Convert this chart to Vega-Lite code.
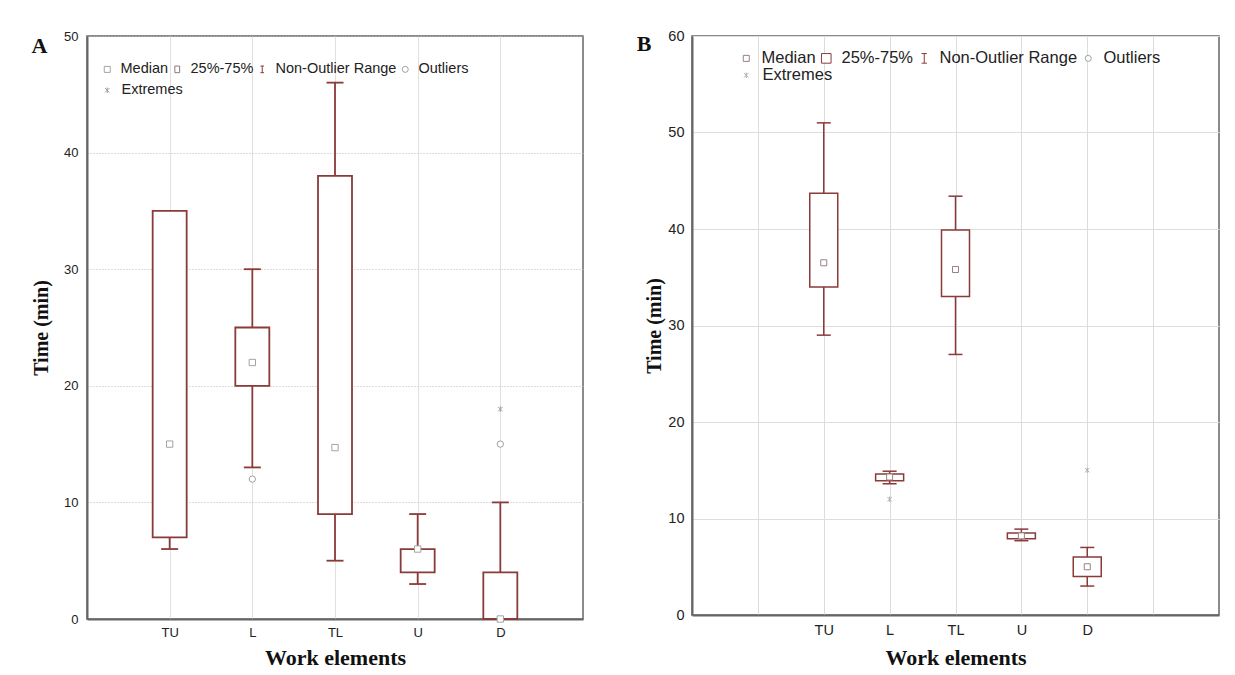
{
  "$schema": "https://vega.github.io/schema/vega-lite/v6.json",
  "background": "white",
  "padding": {"left": 30, "top": 27, "right": 5, "bottom": 5},
  "datasets": {
    "boxA": [
      {"cat": "TU", "q1": 7, "q3": 35, "lo": 6, "hi": 35},
      {"cat": "L", "q1": 20, "q3": 25, "lo": 13, "hi": 30},
      {"cat": "TL", "q1": 9, "q3": 38, "lo": 5, "hi": 46},
      {"cat": "U", "q1": 4, "q3": 6, "lo": 3, "hi": 9},
      {"cat": "D", "q1": 0, "q3": 4, "lo": 0, "hi": 10}
    ],
    "ptsA": [
      {"cat": "TU", "kind": "Median", "v": 15},
      {"cat": "L", "kind": "Median", "v": 22},
      {"cat": "TL", "kind": "Median", "v": 14.7},
      {"cat": "U", "kind": "Median", "v": 6},
      {"cat": "D", "kind": "Median", "v": 0},
      {"cat": "L", "kind": "Outliers", "v": 12},
      {"cat": "D", "kind": "Outliers", "v": 15},
      {"cat": "D", "kind": "Extremes", "v": 18}
    ],
    "boxB": [
      {"cat": "TU", "q1": 34, "q3": 43.7, "lo": 29, "hi": 51},
      {"cat": "L", "q1": 13.9, "q3": 14.6, "lo": 13.6, "hi": 14.9},
      {"cat": "TL", "q1": 33, "q3": 39.9, "lo": 27, "hi": 43.4},
      {"cat": "U", "q1": 7.9, "q3": 8.5, "lo": 7.7, "hi": 8.9},
      {"cat": "D", "q1": 4, "q3": 6, "lo": 3, "hi": 7}
    ],
    "ptsB": [
      {"cat": "TU", "kind": "Median", "v": 36.5},
      {"cat": "L", "kind": "Median", "v": 14.3},
      {"cat": "TL", "kind": "Median", "v": 35.8},
      {"cat": "U", "kind": "Median", "v": 8.2},
      {"cat": "D", "kind": "Median", "v": 5},
      {"cat": "L", "kind": "Extremes", "v": 12},
      {"cat": "D", "kind": "Extremes", "v": 15}
    ]
  },
  "spacing": 52,
  "resolve": {
    "scale": {"x": "independent", "y": "independent", "shape": "independent", "stroke": "independent"},
    "legend": {"shape": "independent", "stroke": "independent"},
    "axis": {"x": "independent", "y": "independent"}
  },
  "hconcat": [
    {
      "width": 496,
      "height": 583,
      "title": {"text": "A", "anchor": "start", "frame": "bounds", "font": "Liberation Serif", "fontSize": 22, "fontWeight": "bold", "color": "#111", "offset": 0, "dy": 28},
      "resolve": {"scale": {"shape": "independent", "stroke": "independent"}},
      "layer": [
        {
          "data": {"name": "boxA"},
          "mark": {"type": "rule", "color": "#8b3a3a", "strokeWidth": 1.8},
          "encoding": {
            "x": {"field": "cat", "type": "nominal", "scale": {"type": "point", "domain": ["TU", "L", "TL", "U", "D"], "padding": 1},
                  "axis": {"title": "Work elements", "labelAngle": 0, "grid": true, "gridColor": "#e0e0e0", "ticks": false, "labelPadding": 7, "titlePadding": 8, "titleFontSize": 22}},
            "y": {"field": "lo", "type": "quantitative", "scale": {"domain": [0, 50], "nice": false},
                  "axis": {"title": "Time (min)", "values": [0, 10, 20, 30, 40, 50], "grid": true, "gridDash": [1, 2], "gridColor": "#bbbbbb", "ticks": false, "labelPadding": 9, "titlePadding": 12}},
            "y2": {"field": "hi"}
          }
        },
        {
          "data": {"name": "boxA"},
          "mark": {"type": "tick", "color": "#8b3a3a", "size": 17, "thickness": 1.8, "opacity": 1},
          "encoding": {"x": {"field": "cat", "type": "nominal"}, "y": {"field": "lo", "type": "quantitative"}}
        },
        {
          "data": {"name": "boxA"},
          "mark": {"type": "tick", "color": "#8b3a3a", "size": 17, "thickness": 1.8, "opacity": 1},
          "encoding": {"x": {"field": "cat", "type": "nominal"}, "y": {"field": "hi", "type": "quantitative"}}
        },
        {
          "data": {"name": "boxA"},
          "mark": {"type": "bar", "fill": "white", "stroke": "#8b3a3a", "strokeWidth": 1.8, "width": 34},
          "encoding": {"x": {"field": "cat", "type": "nominal"}, "y": {"field": "q1", "type": "quantitative"}, "y2": {"field": "q3"}}
        },
        {
          "data": {"name": "ptsA"},
          "transform": [{"filter": "datum.kind != 'Extremes'"}],
          "mark": {"type": "point", "fill": "white", "fillOpacity": 1, "strokeWidth": 1, "size": 40, "opacity": 1},
          "encoding": {
            "x": {"field": "cat", "type": "nominal"},
            "y": {"field": "v", "type": "quantitative"},
            "shape": {"field": "kind", "type": "nominal",
              "scale": {"domain": ["Median", "25%-75%", "Non-Outlier Range", "Outliers"],
                        "range": ["square", "M-0.8,-1.1H0.8V1.1H-0.8Z", "M-0.6,-1.1H0.6M0,-1.1V1.1M-0.6,1.1H0.6", "circle"]},
              "legend": {"title": null, "orient": "none", "legendX": 13, "legendY": 26, "direction": "horizontal", "labelFontSize": 14.5, "labelColor": "#222", "symbolSize": 36, "symbolStrokeWidth": 1, "labelOffset": 6, "columnPadding": 1, "padding": 0, "symbolFillColor": "white", "labelLimit": 0}},
            "stroke": {"field": "kind", "type": "nominal",
              "scale": {"domain": ["Median", "25%-75%", "Non-Outlier Range", "Outliers"],
                        "range": ["#a8a0a0", "#8a7a7a", "#8b3a3a", "#a0a0a0"]},
              "legend": {"title": null, "orient": "none", "legendX": 13, "legendY": 26, "direction": "horizontal", "labelFontSize": 14.5, "labelColor": "#222", "symbolSize": 36, "symbolStrokeWidth": 1, "labelOffset": 6, "columnPadding": 1, "padding": 0, "symbolFillColor": "white", "labelLimit": 0}}
          }
        },
        {
          "data": {"name": "ptsA"},
          "transform": [{"filter": "datum.kind == 'Extremes'"}],
          "mark": {"type": "point", "fill": "white", "fillOpacity": 1, "strokeWidth": 1, "size": 30, "opacity": 1},
          "encoding": {
            "x": {"field": "cat", "type": "nominal"},
            "y": {"field": "v", "type": "quantitative"},
            "shape": {"field": "kind", "type": "nominal",
              "scale": {"domain": ["Extremes"], "range": ["M-0.8,-0.8L0.8,0.8M-0.8,0.8L0.8,-0.8M0,-1V1"]},
              "legend": {"title": null, "orient": "none", "legendX": 13, "legendY": 47, "direction": "horizontal", "labelFontSize": 14.5, "labelColor": "#222", "symbolSize": 30, "symbolStrokeWidth": 1, "labelOffset": 7, "padding": 0, "symbolFillColor": "white", "labelLimit": 0}},
            "stroke": {"field": "kind", "type": "nominal",
              "scale": {"domain": ["Extremes"], "range": ["#a0a0a0"]},
              "legend": {"title": null, "orient": "none", "legendX": 13, "legendY": 47, "direction": "horizontal", "labelFontSize": 14.5, "labelColor": "#222", "symbolSize": 30, "symbolStrokeWidth": 1, "labelOffset": 7, "padding": 0, "symbolFillColor": "white", "labelLimit": 0}}
          }
        }
      ]
    },
    {
      "width": 527,
      "height": 579,
      "title": {"text": "B", "anchor": "start", "frame": "bounds", "font": "Liberation Serif", "fontSize": 22, "fontWeight": "bold", "color": "#111", "offset": 0, "dy": 28, "dx": -8},
      "resolve": {"scale": {"shape": "independent", "stroke": "independent"}},
      "layer": [
        {
          "data": {"name": "boxB"},
          "mark": {"type": "rule", "color": "#8b3a3a", "strokeWidth": 1.5},
          "encoding": {
            "x": {"field": "cat", "type": "nominal", "scale": {"type": "point", "domain": [" ", "TU", "L", "TL", "U", "D", "  "], "padding": 1},
                  "axis": {"title": "Work elements", "labelAngle": 0, "grid": true, "gridColor": "#dcdcdc", "ticks": false, "labelPadding": 8, "titlePadding": 11, "titleFontSize": 22, "labelFontSize": 14.5}},
            "y": {"field": "lo", "type": "quantitative", "scale": {"domain": [0, 60], "nice": false},
                  "axis": {"title": "Time (min)", "values": [0, 10, 20, 30, 40, 50, 60], "grid": true, "gridColor": "#dddddd", "ticks": false, "labelPadding": 8, "titlePadding": 3, "labelFontSize": 14.5}},
            "y2": {"field": "hi"}
          }
        },
        {
          "data": {"name": "boxB"},
          "mark": {"type": "tick", "color": "#8b3a3a", "size": 14, "thickness": 1.5, "opacity": 1},
          "encoding": {"x": {"field": "cat", "type": "nominal"}, "y": {"field": "lo", "type": "quantitative"}}
        },
        {
          "data": {"name": "boxB"},
          "mark": {"type": "tick", "color": "#8b3a3a", "size": 14, "thickness": 1.5, "opacity": 1},
          "encoding": {"x": {"field": "cat", "type": "nominal"}, "y": {"field": "hi", "type": "quantitative"}}
        },
        {
          "data": {"name": "boxB"},
          "mark": {"type": "bar", "fill": "white", "stroke": "#8b3a3a", "strokeWidth": 1.5, "width": 28},
          "encoding": {"x": {"field": "cat", "type": "nominal"}, "y": {"field": "q1", "type": "quantitative"}, "y2": {"field": "q3"}}
        },
        {
          "data": {"name": "ptsB"},
          "transform": [{"filter": "datum.kind != 'Extremes'"}],
          "mark": {"type": "point", "fill": "white", "fillOpacity": 1, "strokeWidth": 1, "size": 36, "opacity": 1},
          "encoding": {
            "x": {"field": "cat", "type": "nominal"},
            "y": {"field": "v", "type": "quantitative"},
            "shape": {"field": "kind", "type": "nominal",
              "scale": {"domain": ["Median", "25%-75%", "Non-Outlier Range", "Outliers"],
                        "range": ["square", "M-1.6,-1.6H1.6V1.6H-1.6Z", "M-0.9,-1.6H0.9M0,-1.6V1.6M-0.9,1.6H0.9", "circle"]},
              "legend": {"title": null, "orient": "none", "legendX": 46, "legendY": 14, "direction": "horizontal", "labelFontSize": 16.5, "labelColor": "#222", "symbolSize": 36, "symbolStrokeWidth": 1, "labelOffset": 7, "columnPadding": 2, "padding": 0, "symbolFillColor": "white", "labelLimit": 0}},
            "stroke": {"field": "kind", "type": "nominal",
              "scale": {"domain": ["Median", "25%-75%", "Non-Outlier Range", "Outliers"],
                        "range": ["#9a8080", "#8b3a3a", "#8b3a3a", "#a0a0a0"]},
              "legend": {"title": null, "orient": "none", "legendX": 46, "legendY": 14, "direction": "horizontal", "labelFontSize": 16.5, "labelColor": "#222", "symbolSize": 36, "symbolStrokeWidth": 1, "labelOffset": 7, "columnPadding": 2, "padding": 0, "symbolFillColor": "white", "labelLimit": 0}}
          }
        },
        {
          "data": {"name": "ptsB"},
          "transform": [{"filter": "datum.kind == 'Extremes'"}],
          "mark": {"type": "point", "fill": "white", "fillOpacity": 1, "strokeWidth": 1, "size": 30, "opacity": 1},
          "encoding": {
            "x": {"field": "cat", "type": "nominal"},
            "y": {"field": "v", "type": "quantitative"},
            "shape": {"field": "kind", "type": "nominal",
              "scale": {"domain": ["Extremes"], "range": ["M-0.8,-0.8L0.8,0.8M-0.8,0.8L0.8,-0.8M0,-1V1"]},
              "legend": {"title": null, "orient": "none", "legendX": 46, "legendY": 31, "direction": "horizontal", "labelFontSize": 16.5, "labelColor": "#222", "symbolSize": 30, "symbolStrokeWidth": 1, "labelOffset": 8, "padding": 0, "symbolFillColor": "white", "labelLimit": 0}},
            "stroke": {"field": "kind", "type": "nominal",
              "scale": {"domain": ["Extremes"], "range": ["#b0b0b0"]},
              "legend": {"title": null, "orient": "none", "legendX": 46, "legendY": 31, "direction": "horizontal", "labelFontSize": 16.5, "labelColor": "#222", "symbolSize": 30, "symbolStrokeWidth": 1, "labelOffset": 8, "padding": 0, "symbolFillColor": "white", "labelLimit": 0}}
          }
        }
      ]
    }
  ],
  "config": {
    "font": "Liberation Sans",
    "view": {"stroke": "#666", "strokeWidth": 1.5},
    "axis": {"labelFont": "Liberation Sans", "labelFontSize": 13, "labelColor": "#222", "titleFont": "Liberation Serif", "titleFontWeight": "bold", "titleFontSize": 20, "titleColor": "#111", "domainColor": "#666", "domainWidth": 2}
  }
}
